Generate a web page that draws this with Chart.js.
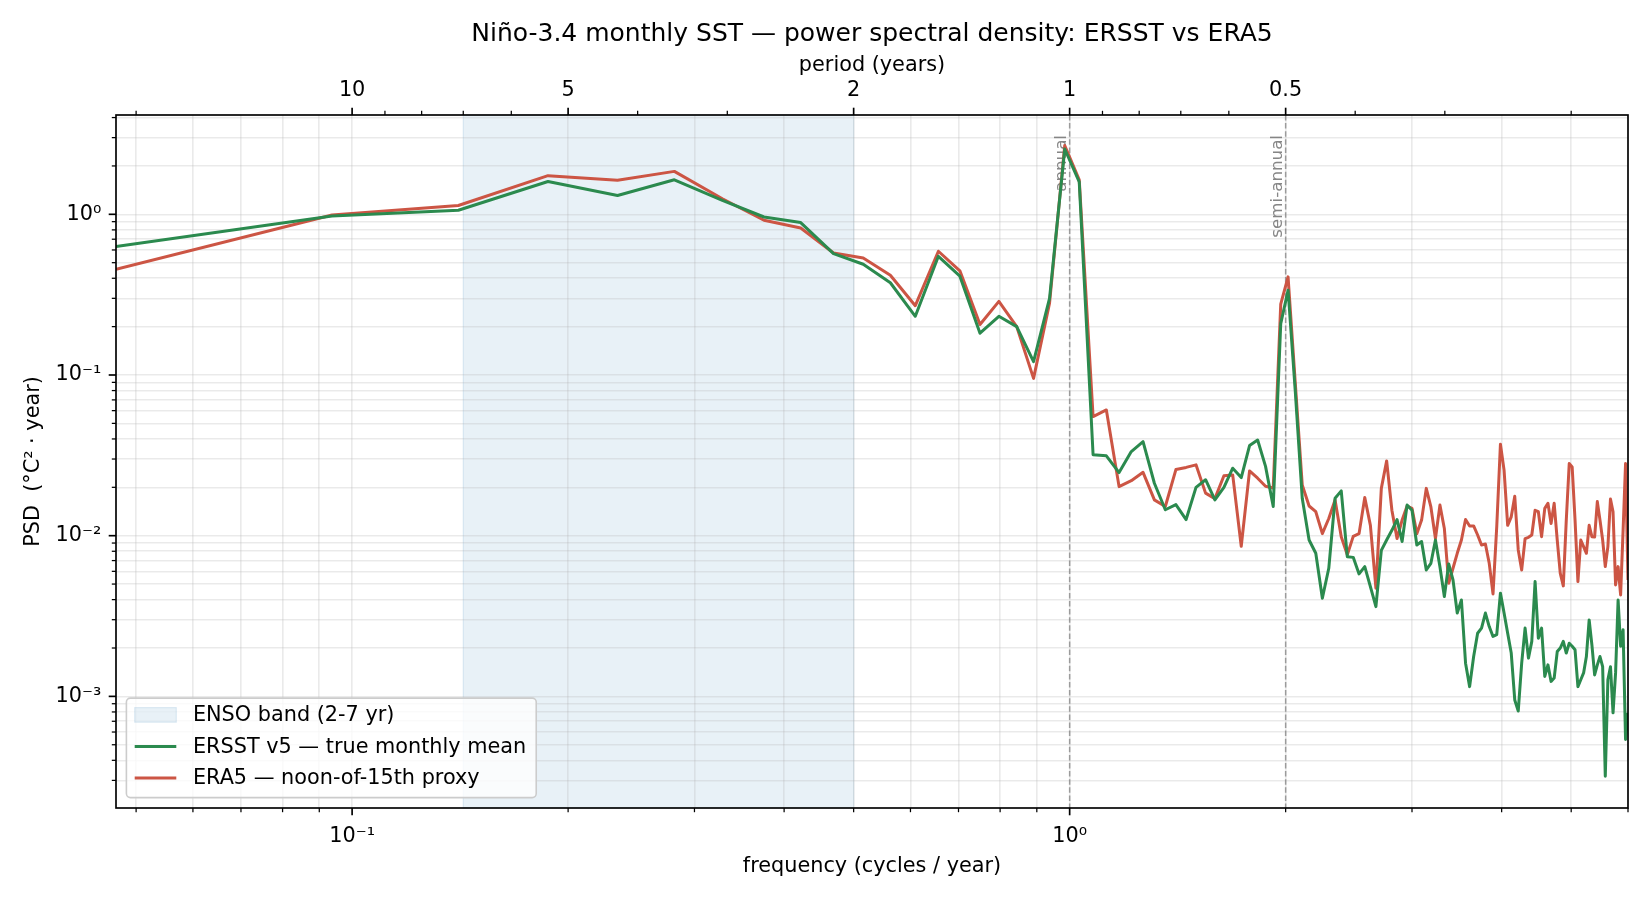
<!DOCTYPE html>
<html><head><meta charset="utf-8">
<script src="https://cdn.jsdelivr.net/npm/chart.js@4.4.1/dist/chart.umd.min.js"></script>
<style>html,body{margin:0;padding:0;background:#fff;}#wrap{width:1650px;height:900px;}</style>
</head><body><div id="wrap"><canvas id="c" width="1650" height="900"></canvas></div>
<script>
// ---- data (frequency bins, cycles / year) ----
const frequencies = [
0.046875,0.09375,0.140625,0.1875,0.234375,0.28125,0.328125,0.375,0.421875,0.46875,
0.515625,0.5625,0.609375,0.65625,0.703125,0.75,0.796875,0.84375,0.890625,0.9375,
0.984375,1.03125,1.078125,1.125,1.171875,1.21875,1.265625,1.3125,1.359375,1.40625,
1.453125,1.5,1.546875,1.59375,1.640625,1.6875,1.734375,1.78125,1.828125,1.875,
1.921875,1.96875,2.015625,2.0625,2.109375,2.15625,2.203125,2.25,2.296875,2.34375,
2.390625,2.4375,2.484375,2.53125,2.578125,2.625,2.671875,2.71875,2.765625,2.8125,
2.859375,2.90625,2.953125,3.0,3.046875,3.09375,3.140625,3.1875,3.234375,3.28125,
3.328125,3.375,3.421875,3.46875,3.515625,3.5625,3.609375,3.65625,3.703125,3.75,
3.796875,3.84375,3.890625,3.9375,3.984375,4.03125,4.078125,4.125,4.171875,4.21875,
4.265625,4.3125,4.359375,4.40625,4.453125,4.5,4.546875,4.59375,4.640625,4.6875,
4.734375,4.78125,4.828125,4.875,4.921875,4.96875,5.015625,5.0625,5.109375,5.15625,
5.203125,5.25,5.296875,5.34375,5.390625,5.4375,5.484375,5.53125,5.578125,5.625,
5.671875,5.71875,5.765625,5.8125,5.859375,5.90625,5.953125,6.0];

// PSD, °C² · year
const ersstPsd = [
0.63,0.977,1.06,1.60,1.31,1.64,1.22,0.962,0.888,0.57,
0.489,0.375,0.232,0.548,0.412,0.182,0.232,0.20,0.121,0.30,
2.55,1.59,0.0319,0.0314,0.0247,0.0334,0.0385,0.0212,0.0145,0.0156,
0.0126,0.020,0.0223,0.0167,0.020,0.0263,0.0230,0.0364,0.0394,0.0270,
0.0152,0.209,0.337,0.080,0.0171,0.0094,0.00777,0.00408,0.00627,0.0171,
0.0190,0.0074,0.00733,0.00578,0.00642,0.00482,0.00362,0.0081,0.0094,0.0108,
0.0126,0.0092,0.0155,0.0144,0.00875,0.0092,0.00612,0.00673,0.0094,0.0064,
0.00418,0.00667,0.00531,0.0033,0.00398,0.00161,0.00115,0.00177,0.00247,0.00266,
0.0033,0.00272,0.00236,0.00242,0.00439,0.0033,0.00247,0.00186,0.00095,0.00081,
0.00161,0.00266,0.00173,0.00220,0.00518,0.00230,0.00266,0.00133,0.00157,0.00124,
0.0013,0.0019,0.0020,0.0022,0.00186,0.00214,0.00205,0.00195,0.00115,0.00127,
0.0014,0.00177,0.00299,0.00209,0.00136,0.00157,0.00177,0.00153,0.000318,0.00127,
0.00153,0.00079,0.0014,0.00398,0.00205,0.0026,0.00054,0.00079];

const era5Psd = [
0.455,0.99,1.135,1.74,1.63,1.85,1.25,0.918,0.822,0.575,
0.535,0.418,0.27,0.589,0.445,0.206,0.287,0.20,0.0953,0.28,
2.68,1.64,0.0551,0.0606,0.0202,0.0220,0.0248,0.0167,0.0152,0.0258,
0.0266,0.0276,0.0184,0.0170,0.0236,0.0239,0.0086,0.0253,0.0228,0.0203,
0.0198,0.276,0.408,0.090,0.0207,0.0153,0.0141,0.0103,0.0128,0.0167,
0.00986,0.0076,0.0099,0.0103,0.0173,0.0116,0.00471,0.0197,0.0292,0.0144,
0.0096,0.0125,0.0153,0.0148,0.0103,0.0125,0.0197,0.0151,0.0096,0.0155,
0.0111,0.00506,0.00627,0.00777,0.0094,0.0126,0.0115,0.0115,0.0101,0.00875,
0.00887,0.00673,0.00434,0.0114,0.0371,0.0256,0.0116,0.0131,0.0176,0.00815,
0.00612,0.0096,0.00977,0.0101,0.0144,0.0141,0.00986,0.0148,0.0159,0.0119,
0.0159,0.0094,0.00583,0.00487,0.0125,0.0281,0.0268,0.0125,0.00518,0.0094,
0.00855,0.00777,0.0116,0.00986,0.0098,0.0163,0.0125,0.0094,0.00642,0.00855,
0.0169,0.0141,0.00494,0.00642,0.00428,0.0108,0.0281,0.0053];

const seriesNames = ['ERSST v5 — true monthly mean', 'ERA5 — noon-of-15th proxy'];
const bandName = 'ENSO band (2-7 yr)';
const ensoBandYears = [2, 7];
const cycleMarkerFreqs = [1, 2];
const cycleMarkerLabels = ['annual', 'semi-annual'];

// ---- tick labels ----
const freqMajorTicks = [0.1, 1];
const freqMajorLabels = ['10⁻¹', '10⁰'];
const freqMinorTicks = [0.05,0.06,0.07,0.08,0.09,0.2,0.3,0.4,0.5,0.6,0.7,0.8,0.9,2,3,4,5,6];
const periodMajorTicks = [10, 5, 2, 1, 0.5];
const periodMajorLabels = ['10', '5', '2', '1', '0.5'];
const periodMinorTicks = [20,9,8,7,6,4,3,0.9,0.8,0.7,0.6,0.4,0.3,0.2];
const psdMajorTicks = [1e-3, 1e-2, 1e-1, 1];
const psdMajorLabels = ['10⁻³', '10⁻²', '10⁻¹', '10⁰'];
const psdMinorTicks = [3e-4,4e-4,5e-4,6e-4,7e-4,8e-4,9e-4,
  2e-3,3e-3,4e-3,5e-3,6e-3,7e-3,8e-3,9e-3,
  0.02,0.03,0.04,0.05,0.06,0.07,0.08,0.09,
  0.2,0.3,0.4,0.5,0.6,0.7,0.8,0.9,2,3,4];

const X_MIN = 0.046875, X_MAX = 6.0, Y_MIN = 2.02e-4, Y_MAX = 4.15;

// ---- styling ----
const FONT = 'DejaVu Sans';
const FS = 20.8;
const GREEN = '#2b8a4e';
const RED = '#cc5544';
const LINE_W = 3.0;
const GRID = 'rgba(176,176,176,0.27)';
const BAND_FILL = 'rgba(31,119,180,0.1)';
const BAND_EDGE = 'rgba(31,119,180,0.13)';

Chart.defaults.font.family = FONT;
Chart.defaults.color = '#000';

function near(a, b) { return Math.abs(a - b) <= 1e-9 * Math.max(Math.abs(a), Math.abs(b)); }
function labelFor(v, vals, labels) {
  for (let i = 0; i < vals.length; i++) if (near(v, vals[i])) return labels[i];
  return '';
}
const periodMajorFreqs = periodMajorTicks.map(p => 1 / p);
const periodMinorFreqs = periodMinorTicks.map(p => 1 / p);

const bandPlugin = {
  id: 'band',
  beforeDraw(chart) {
    const {ctx, chartArea: a, scales: {x}} = chart;
    const x0 = x.getPixelForValue(1 / ensoBandYears[1]);
    const x1 = x.getPixelForValue(1 / ensoBandYears[0]);
    ctx.save();
    ctx.fillStyle = BAND_FILL;
    ctx.fillRect(x0, a.top, x1 - x0, a.bottom - a.top);
    ctx.strokeStyle = BAND_EDGE; ctx.lineWidth = 1.2;
    ctx.strokeRect(x0, a.top, x1 - x0, a.bottom - a.top);
    ctx.restore();
  },
  beforeDatasetsDraw(chart) {
    const {ctx, chartArea: a, scales: {x}} = chart;
    ctx.save();
    cycleMarkerFreqs.forEach((f, i) => {
      const px = x.getPixelForValue(f);
      ctx.strokeStyle = 'rgba(128,128,128,0.75)';
      ctx.lineWidth = 1.5;
      ctx.setLineDash([5.5, 2.6]);
      ctx.beginPath(); ctx.moveTo(px, a.top); ctx.lineTo(px, a.bottom); ctx.stroke();
      ctx.setLineDash([]);
      ctx.save();
      ctx.translate(px - 4, a.top + 20);
      ctx.rotate(-Math.PI / 2);
      ctx.fillStyle = 'rgba(128,128,128,0.95)';
      ctx.font = '16.7px "' + FONT + '"';
      ctx.textAlign = 'right';
      ctx.textBaseline = 'alphabetic';
      ctx.fillText(cycleMarkerLabels[i], 0, 0);
      ctx.restore();
    });
    ctx.restore();
  }
};

const decorPlugin = {
  id: 'decor',
  afterDatasetsDraw(chart) {
    const {ctx, chartArea: a, scales} = chart;
    ctx.save();
    // spines
    ctx.strokeStyle = '#000'; ctx.lineWidth = 1.67;
    ctx.strokeRect(a.left, a.top, a.right - a.left, a.bottom - a.top);
    // tick marks
    const tick = (px, py, dx, dy, len, w) => {
      ctx.lineWidth = w; ctx.beginPath(); ctx.moveTo(px, py); ctx.lineTo(px + dx * len, py + dy * len); ctx.stroke();
    };
    freqMajorTicks.forEach(v => tick(scales.x.getPixelForValue(v), a.bottom, 0, 1, 7.3, 1.67));
    freqMinorTicks.forEach(v => tick(scales.x.getPixelForValue(v), a.bottom, 0, 1, 4.2, 1.25));
    periodMajorFreqs.forEach(v => tick(scales.xTop.getPixelForValue(v), a.top, 0, -1, 7.3, 1.67));
    periodMinorFreqs.forEach(v => tick(scales.xTop.getPixelForValue(v), a.top, 0, -1, 4.2, 1.25));
    psdMajorTicks.forEach(v => tick(a.left, scales.y.getPixelForValue(v), -1, 0, 7.3, 1.67));
    psdMinorTicks.forEach(v => tick(a.left, scales.y.getPixelForValue(v), -1, 0, 4.2, 1.25));

    // legend (lower left, inside axes)
    ctx.font = FS + 'px "' + FONT + '"';
    const labels = [bandName, seriesNames[0], seriesNames[1]];
    const maxW = Math.max(...labels.map(l => ctx.measureText(l).width));
    const bx = a.left + 10.4, bottom = a.bottom - 10.4;
    const handleX = bx + 8.3, handleL = 41.6, textX = handleX + handleL + 16.6;
    const bw = textX + maxW + 10 - bx, bh = 99.5;
    const by = bottom - bh;
    ctx.beginPath();
    ctx.roundRect(bx, by, bw, bh, 4);
    ctx.fillStyle = 'rgba(255,255,255,0.8)'; ctx.fill();
    ctx.strokeStyle = '#cccccc'; ctx.lineWidth = 1.6; ctx.stroke();
    const rows = [by + 16.8, by + 48.3, by + 80.0];
    // band patch
    ctx.fillStyle = BAND_FILL; ctx.fillRect(handleX, rows[0] - 7.3, handleL, 14.6);
    ctx.strokeStyle = BAND_EDGE; ctx.lineWidth = 1.2; ctx.strokeRect(handleX, rows[0] - 7.3, handleL, 14.6);
    [GREEN, RED].forEach((c, i) => {
      ctx.strokeStyle = c; ctx.lineWidth = LINE_W;
      ctx.beginPath(); ctx.moveTo(handleX, rows[i + 1]); ctx.lineTo(handleX + handleL, rows[i + 1]); ctx.stroke();
    });
    ctx.fillStyle = '#000'; ctx.textAlign = 'left'; ctx.textBaseline = 'middle';
    labels.forEach((l, i) => ctx.fillText(l, textX, rows[i] + 1));
    ctx.restore();
  }
};

new Chart(document.getElementById('c'), {
  type: 'line',
  data: {
    datasets: [
      { label: seriesNames[0], data: frequencies.map((f, i) => ({x: f, y: ersstPsd[i]})),
        borderColor: GREEN, borderWidth: LINE_W, pointRadius: 0, tension: 0, fill: false, borderJoinStyle: 'round' },
      { label: seriesNames[1], data: frequencies.map((f, i) => ({x: f, y: era5Psd[i]})),
        borderColor: RED, borderWidth: LINE_W, pointRadius: 0, tension: 0, fill: false, borderJoinStyle: 'round' }
    ]
  },
  options: {
    responsive: false, animation: false, devicePixelRatio: 1,
    events: [],
    layout: { padding: { left: 0, right: 22, top: 0, bottom: 0 } },
    plugins: {
      legend: { display: false },
      tooltip: { enabled: false },
      title: { display: true, fullSize: false, text: 'Niño-3.4 monthly SST — power spectral density: ERSST vs ERA5',
        color: '#000', font: { family: FONT, size: 25, weight: 'normal' }, padding: { top: 19, bottom: 0 } }
    },
    scales: {
      x: {
        type: 'logarithmic', position: 'bottom', min: X_MIN, max: X_MAX, bounds: 'data',
        afterBuildTicks: s => { s.ticks = [...freqMinorTicks, ...freqMajorTicks].sort((p, q) => p - q).map(v => ({value: v})); },
        afterFit: s => { s.height = 92; },
        ticks: { autoSkip: false, maxRotation: 0, minRotation: 0, padding: 16, color: '#000',
          font: { family: FONT, size: FS }, callback: v => labelFor(v, freqMajorTicks, freqMajorLabels) },
        grid: { color: GRID, lineWidth: 1.6, drawTicks: false },
        border: { display: false },
        title: { display: true, text: 'frequency (cycles / year)', color: '#000',
          font: { family: FONT, size: FS }, padding: { top: 0, bottom: 20.5 } }
      },
      xTop: {
        type: 'logarithmic', position: 'top', min: X_MIN, max: X_MAX, bounds: 'data',
        afterBuildTicks: s => { s.ticks = [...periodMinorFreqs, ...periodMajorFreqs].sort((p, q) => p - q).map(v => ({value: v})); },
        afterFit: s => { s.height = 66; },
        ticks: { autoSkip: false, maxRotation: 0, minRotation: 0, padding: 11.5, color: '#000',
          font: { family: FONT, size: FS }, callback: v => labelFor(v, periodMajorFreqs, periodMajorLabels) },
        grid: { display: false, drawTicks: false },
        border: { display: false },
        title: { display: true, text: 'period (years)', color: '#000',
          font: { family: FONT, size: FS }, padding: { top: 4.2, bottom: 0 } }
      },
      y: {
        type: 'logarithmic', position: 'left', min: Y_MIN, max: Y_MAX, bounds: 'data',
        afterBuildTicks: s => { s.ticks = [...psdMinorTicks, ...psdMajorTicks].sort((p, q) => p - q).map(v => ({value: v})); },
        afterFit: s => { s.width = 116; },
        ticks: { autoSkip: false, padding: 14.6, color: '#000',
          font: { family: FONT, size: FS }, callback: v => labelFor(v, psdMajorTicks, psdMajorLabels) },
        grid: { color: GRID, lineWidth: 1.6, drawTicks: false },
        border: { display: false },
        title: { display: true, text: 'PSD  (°C² · year)', color: '#000',
          font: { family: FONT, size: FS }, padding: { top: 21, bottom: 0 } }
      }
    }
  },
  plugins: [bandPlugin, decorPlugin]
});
</script>
</body></html>
